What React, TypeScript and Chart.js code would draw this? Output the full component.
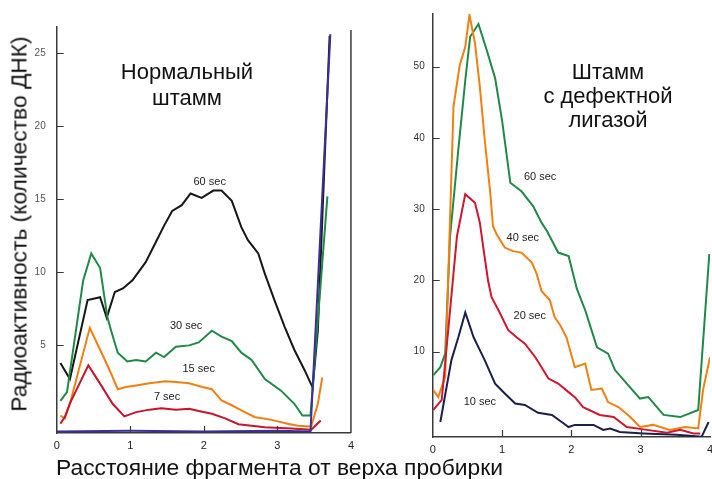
import React, { useEffect, useRef } from "react";
import { Chart, registerables } from "chart.js";

Chart.register(...registerables);

// ---------- Left panel: normal strain ----------
const leftTicksY = [5, 10, 15, 20, 25];
const leftX60 = [0.05, 0.18, 0.42, 0.59, 0.68, 0.79, 0.9, 1.03, 1.21, 1.35, 1.46, 1.57, 1.7, 1.82, 1.97, 2.13, 2.24, 2.38, 2.51, 2.6, 2.74, 2.83, 2.96, 3.1, 3.23, 3.37, 3.48, 3.55, 3.71];
const leftY60 = [3.8, 2.7, 8.1, 8.3, 6.9, 8.65, 8.9, 9.45, 10.7, 12.1, 13.2, 14.2, 14.6, 15.4, 15.1, 15.6, 15.6, 14.9, 13.1, 12.2, 11.3, 9.9, 8.1, 6.25, 4.7, 3.3, 2.1, 6.0, 26.2];
const leftX30 = [0.05, 0.14, 0.36, 0.47, 0.59, 0.69, 0.74, 0.83, 0.96, 1.08, 1.21, 1.35, 1.46, 1.62, 1.8, 1.93, 2.11, 2.24, 2.38, 2.51, 2.65, 2.83, 3.05, 3.23, 3.34, 3.45, 3.68];
const leftY30 = [1.2, 1.8, 9.45, 11.3, 10.3, 6.9, 6.0, 4.5, 3.9, 4.0, 3.9, 4.5, 4.2, 4.9, 5.0, 5.2, 6.0, 5.6, 5.3, 4.5, 4.0, 2.7, 1.9, 1.0, 0.2, 0.2, 15.2];
const leftX15 = [0.05, 0.11, 0.18, 0.45, 0.59, 0.72, 0.83, 0.94, 1.08, 1.26, 1.48, 1.62, 1.8, 1.98, 2.11, 2.24, 2.38, 2.51, 2.69, 2.92, 3.14, 3.28, 3.46, 3.55, 3.61];
const leftY15 = [0.2, 0.0, 1.0, 6.2, 4.7, 3.3, 2.0, 2.15, 2.26, 2.4, 2.55, 2.5, 2.4, 2.15, 2.0, 1.23, 0.9, 0.55, 0.1, -0.1, -0.36, -0.5, -0.55, 1.0, 2.8];
const leftX7 = [0.05, 0.11, 0.18, 0.43, 0.59, 0.76, 0.92, 1.08, 1.26, 1.42, 1.62, 1.8, 1.93, 2.11, 2.29, 2.47, 2.83, 3.19, 3.46, 3.59];
const leftY7 = [-0.36, 0.09, 1.03, 3.63, 2.38, 1.0, 0.14, 0.43, 0.6, 0.7, 0.6, 0.66, 0.5, 0.32, 0.0, -0.4, -0.6, -0.7, -0.77, -0.14];
const leftXBase = [0.0, 1.0, 2.0, 3.0, 3.45, 3.72];
const leftYBase = [-0.9, -0.85, -0.9, -0.85, -0.9, 26.3];
const leftLabelText = ["60 sec", "30 sec", "15 sec", "7 sec"];
const leftLabelX = [2.08, 1.76, 1.93, 1.5];
const leftLabelY = [16.2, 6.3, 3.4, 1.5];

// ---------- Right panel: ligase-defective strain ----------
const rightTicksY = [10, 20, 30, 40, 50];
const rightX60 = [0.01, 0.11, 0.18, 0.25, 0.37, 0.47, 0.54, 0.66, 0.78, 0.9, 1.0, 1.12, 1.28, 1.45, 1.57, 1.65, 1.81, 1.96, 2.08, 2.2, 2.37, 2.53, 2.63, 2.8, 2.99, 3.11, 3.33, 3.57, 3.83, 3.99];
const rightY60 = [6.7, 7.8, 9.7, 26.1, 38.4, 48.1, 54.2, 56.0, 52.3, 48.4, 42.5, 33.7, 32.5, 30.4, 28.1, 26.9, 23.9, 23.4, 18.8, 15.8, 10.6, 9.7, 7.4, 5.5, 3.4, 3.6, 1.1, 0.8, 1.8, 23.7];
const rightX40 = [0.01, 0.08, 0.18, 0.3, 0.39, 0.47, 0.53, 0.61, 0.68, 0.75, 0.83, 0.87, 0.92, 1.04, 1.16, 1.28, 1.43, 1.5, 1.57, 1.69, 1.76, 1.84, 1.93, 2.05, 2.2, 2.29, 2.44, 2.53, 2.68, 2.85, 2.99, 3.18, 3.42, 3.64, 3.83, 3.9, 4.0];
const rightY40 = [4.6, 3.6, 6.4, 44.4, 50.2, 52.8, 57.3, 53.3, 47.2, 39.8, 32.3, 27.6, 26.5, 24.6, 24.1, 23.9, 22.5, 20.9, 18.5, 17.2, 14.8, 13.7, 12.0, 7.8, 8.3, 4.6, 4.8, 2.9, 2.2, 0.8, -0.6, -0.3, -1.0, -0.6, -0.8, 4.6, 9.2];
const rightX20 = [0.01, 0.13, 0.35, 0.47, 0.61, 0.68, 0.73, 0.8, 0.85, 0.95, 1.09, 1.21, 1.33, 1.48, 1.57, 1.67, 1.81, 1.96, 2.05, 2.17, 2.41, 2.61, 2.8, 3.09, 3.38, 3.57, 3.76, 3.86];
const rightY20 = [1.8, 3.2, 26.2, 32.1, 30.9, 28.1, 24.6, 19.9, 17.6, 15.8, 13.0, 12.0, 11.1, 9.2, 7.8, 6.2, 5.5, 4.3, 3.6, 2.2, 1.1, 0.8, -0.6, -1.0, -1.4, -1.0, -1.5, -1.5];
const rightX10 = [0.11, 0.27, 0.37, 0.47, 0.59, 0.68, 0.75, 0.9, 1.04, 1.19, 1.33, 1.52, 1.72, 1.86, 1.96, 2.05, 2.32, 2.46, 2.56, 2.7, 3.04, 3.52, 3.88, 3.98];
const rightY10 = [0.1, 8.8, 12.0, 15.5, 12.0, 10.2, 8.8, 5.5, 4.1, 2.7, 2.5, 1.4, 1.1, 0.1, -0.6, -0.3, -0.3, -1.0, -0.8, -1.3, -1.5, -1.7, -1.95, 0.1];
const rightLabelText = ["60 sec", "40 sec", "20 sec", "10 sec"];
const rightLabelX = [1.55, 1.3, 1.4, 0.68];
const rightLabelY = [34.5, 25.9, 15.0, 2.9];

const xTicks = [0, 1, 2, 3, 4];

const FONT = '"Liberation Sans", Arial, Helvetica, sans-serif';
const AXIS = "#3a3a3a";

const pts = (xs: number[], ys: number[]) => xs.map((x, i) => ({ x, y: ys[i] }));

const decor = {
  id: "decor",
  afterDatasetsDraw(chart: any, _a: any, opts: any) {
    const { ctx, chartArea, scales } = chart;
    const xs = scales.x;
    const ys = scales.y;
    ctx.save();
    ctx.strokeStyle = AXIS;
    ctx.lineWidth = 1.2;
    ctx.beginPath();
    ys.ticks.forEach((t: any) => {
      const py = Math.round(ys.getPixelForValue(t.value)) + 0.5;
      ctx.moveTo(chartArea.left, py);
      ctx.lineTo(chartArea.left + 7, py);
    });
    xs.ticks.forEach((t: any) => {
      if (t.value <= xs.min || t.value >= xs.max) return;
      const px = Math.round(xs.getPixelForValue(t.value)) + 0.5;
      ctx.moveTo(px, chartArea.bottom);
      ctx.lineTo(px, chartArea.bottom - 7);
    });
    ctx.stroke();
    if (opts.rightBorder) {
      ctx.lineWidth = 1.5;
      ctx.beginPath();
      ctx.moveTo(chartArea.right, chartArea.top + 3);
      ctx.lineTo(chartArea.right, chartArea.bottom);
      ctx.stroke();
    }
    ctx.fillStyle = "#222";
    ctx.font = `11px ${FONT}`;
    ctx.textAlign = "center";
    ctx.textBaseline = "middle";
    opts.text.forEach((s: string, i: number) => {
      ctx.fillText(s, xs.getPixelForValue(opts.lx[i]), ys.getPixelForValue(opts.ly[i]));
    });
    ctx.restore();
  },
};

function makeConfig(p: any) {
  return {
    type: "line",
    data: {
      datasets: p.series.map((s: any) => ({
        data: pts(s.xs, s.ys),
        borderColor: s.color,
        borderWidth: 2,
        pointRadius: 0,
        tension: 0,
        fill: false,
      })),
    },
    options: {
      responsive: false,
      animation: false,
      parsing: true,
      layout: { padding: p.padding },
      plugins: {
        legend: { display: false },
        tooltip: { enabled: false },
        decor: { rightBorder: p.rightBorder, text: p.labelText, lx: p.labelX, ly: p.labelY },
      },
      scales: {
        x: {
          type: "linear",
          min: 0,
          max: 4,
          afterBuildTicks: (s: any) => {
            s.ticks = xTicks.map((v) => ({ value: v }));
          },
          afterFit: (s: any) => {
            s.height = p.xHeight;
          },
          grid: { display: false, drawTicks: false },
          border: { display: true, color: AXIS, width: 1.5 },
          ticks: { color: "#222", font: { family: FONT, size: 11 }, padding: 6, maxRotation: 0 },
        },
        y: {
          type: "linear",
          min: p.yMin,
          max: p.yMax,
          afterBuildTicks: (s: any) => {
            s.ticks = p.yTicks.map((v: number) => ({ value: v }));
          },
          afterFit: (s: any) => {
            s.width = p.yWidth;
          },
          grid: { display: false, drawTicks: false },
          border: { display: true, color: AXIS, width: 1.5 },
          ticks: { color: p.tickColor, font: { family: FONT, size: 10 }, padding: p.tickPad },
        },
      },
    },
    plugins: [decor],
  };
}

const leftPanel = {
  series: [
    { xs: leftXBase, ys: leftYBase, color: "#3a2f9a" },
    { xs: leftX7, ys: leftY7, color: "#c4162e" },
    { xs: leftX15, ys: leftY15, color: "#f07f10" },
    { xs: leftX30, ys: leftY30, color: "#1f8a45" },
    { xs: leftX60, ys: leftY60, color: "#161616" },
  ],
  yMin: -1,
  yMax: 26.8,
  yTicks: leftTicksY,
  yWidth: 56.7,
  xHeight: 46,
  padding: { left: 0, right: 6.5, top: 27, bottom: 0 },
  rightBorder: true,
  tickColor: "#555",
  tickPad: 11,
  labelText: leftLabelText,
  labelX: leftLabelX,
  labelY: leftLabelY,
};

const rightPanel = {
  series: [
    { xs: rightX10, ys: rightY10, color: "#1b1f4a" },
    { xs: rightX20, ys: rightY20, color: "#cf1730" },
    { xs: rightX40, ys: rightY40, color: "#f08010" },
    { xs: rightX60, ys: rightY60, color: "#1f8a45" },
  ],
  yMin: -2,
  yMax: 57.4,
  yTicks: rightTicksY,
  yWidth: 72.7,
  xHeight: 42,
  padding: { left: 0, right: 22, top: 12, bottom: 0 },
  rightBorder: false,
  tickColor: "#333",
  tickPad: 8,
  labelText: rightLabelText,
  labelX: rightLabelX,
  labelY: rightLabelY,
};

export default function App() {
  const leftRef = useRef<HTMLCanvasElement | null>(null);
  const rightRef = useRef<HTMLCanvasElement | null>(null);

  useEffect(() => {
    const c1 = new Chart(leftRef.current as any, makeConfig(leftPanel) as any);
    const c2 = new Chart(rightRef.current as any, makeConfig(rightPanel) as any);
    return () => {
      c1.destroy();
      c2.destroy();
    };
  }, []);

  const titleStyle: React.CSSProperties = {
    position: "absolute",
    fontFamily: FONT,
    fontSize: 22,
    lineHeight: "24px",
    color: "#111",
    textAlign: "center",
    whiteSpace: "nowrap",
    transform: "translateX(-50%)",
  };

  return (
    <div
      style={{
        position: "fixed",
        left: 0,
        top: 0,
        width: 712,
        height: 479,
        overflow: "hidden",
        background: "#fff",
      }}
    >
      <canvas ref={leftRef} width={360} height={479} style={{ position: "absolute", left: 0, top: 0, width: 360, height: 479 }} />
      <canvas ref={rightRef} width={372} height={479} style={{ position: "absolute", left: 360, top: 0, width: 372, height: 479 }} />
      <div style={{ ...titleStyle, left: 187, top: 59, lineHeight: "26px" }}>
        Нормальный
        <br />
        штамм
      </div>
      <div style={{ ...titleStyle, left: 608, top: 60 }}>
        Штамм
        <br />с дефектной
        <br />
        лигазой
      </div>
      <div
        style={{
          position: "absolute",
          left: 19,
          top: 224,
          transform: "translate(-50%, -50%) rotate(-90deg)",
          fontFamily: FONT,
          fontSize: 22.8,
          color: "#111",
          whiteSpace: "nowrap",
        }}
      >
        Радиоактивность (количество ДНК)
      </div>
      <div
        style={{
          position: "absolute",
          left: 56,
          top: 454,
          fontFamily: FONT,
          fontSize: 22.8,
          lineHeight: "26px",
          color: "#111",
          whiteSpace: "nowrap",
        }}
      >
        Расстояние фрагмента от верха пробирки
      </div>
    </div>
  );
}
